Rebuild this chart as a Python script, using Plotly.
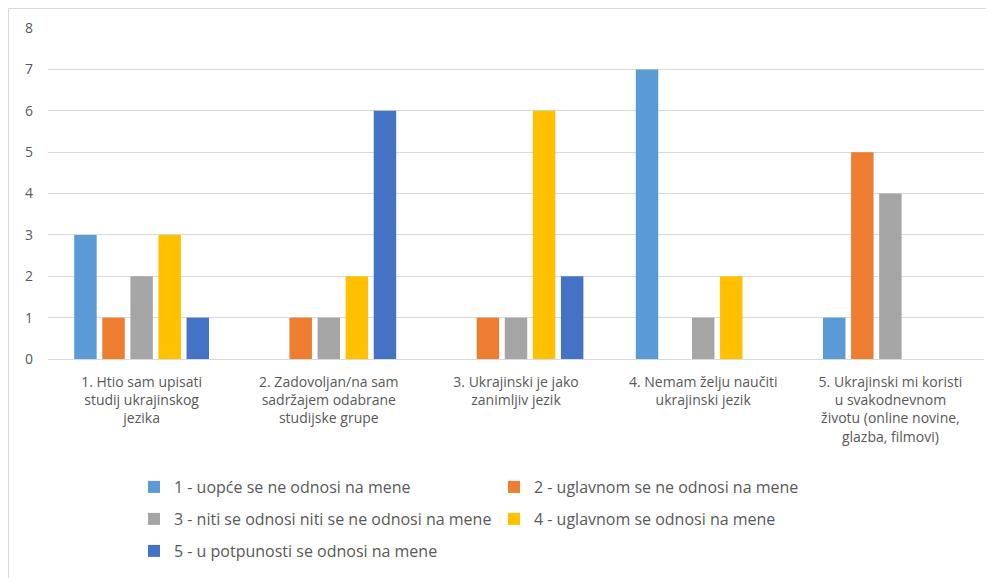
import plotly.graph_objects as go

categories = [
    "1. Htio sam upisati<br>studij ukrajinskog<br>jezika",
    "2. Zadovoljan/na sam<br>sadržajem odabrane<br>studijske grupe",
    "3. Ukrajinski je jako<br>zanimljiv jezik",
    "4. Nemam želju naučiti<br>ukrajinski jezik",
    "5. Ukrajinski mi koristi<br>u svakodnevnom<br>životu (online novine,<br>glazba, filmovi)",
]
series_names = [
    "1 - uopće se ne odnosi na mene",
    "2 - uglavnom se ne odnosi na mene",
    "3 - niti se odnosi niti se ne odnosi na mene",
    "4 - uglavnom se odnosi na mene",
    "5 - u potpunosti se odnosi na mene",
]
s1 = [3, 0, 0, 7, 1]
s2 = [1, 1, 1, 0, 5]
s3 = [2, 1, 1, 1, 4]
s4 = [3, 2, 6, 2, 0]
s5 = [1, 6, 2, 0, 0]
values = [s1, s2, s3, s4, s5]
colors = ["#5B9BD5", "#ED7D31", "#A5A5A5", "#FFC000", "#4472C4"]
legend_ids = ["legend", "legend", "legend2", "legend2", "legend3"]

fig = go.Figure()
for name, vals, col, lg in zip(series_names, values, colors, legend_ids):
    fig.add_trace(go.Bar(x=categories, y=vals, name=name, marker_color=col,
                         marker_line_width=0, legend=lg))

# the page body adds an 8px offset; figure coordinates below are page coords - 8
W, H = 994, 578
ml, mr, mt, mb = 40, 18, 20, 227
pw, ph = W - ml - mr, H - mt - mb

def px_x(x):
    return (x - ml) / pw

def px_y(y):
    return (H - mb - y) / ph

font = dict(family="Open Sans, Liberation Sans, sans-serif", size=14, color="#595959")
leg_font = dict(family="Open Sans, Liberation Sans, sans-serif", size=16, color="#595959")
leg_common = dict(orientation="h", xanchor="left", yanchor="middle", x=px_x(126),
                  entrywidth=315, entrywidthmode="pixels", font=leg_font,
                  bgcolor="rgba(0,0,0,0)", itemwidth=30, traceorder="normal")

fig.update_layout(
    width=W, height=H,
    margin=dict(l=ml, r=mr, t=mt, b=mb),
    paper_bgcolor="white", plot_bgcolor="white",
    font=font,
    barmode="group", bargap=0.25, bargroupgap=0.2,
    xaxis=dict(showgrid=False, showline=False, ticks="", tickfont=dict(size=14, color="#595959"),
               tickangle=0, automargin=False, ticklabelstandoff=13),
    yaxis=dict(range=[0, 8], dtick=1, showgrid=True, gridcolor="#D9D9D9", gridwidth=1,
               zeroline=True, zerolinecolor="#D9D9D9", zerolinewidth=1,
               tickfont=dict(size=14, color="#595959"), ticks="", ticklabelstandoff=14,
               automargin=False),
    legend=dict(**leg_common, y=px_y(479)),
    legend2=dict(**leg_common, y=px_y(511)),
    legend3=dict(**leg_common, y=px_y(543)),
    showlegend=True,
    shapes=[dict(type="rect", xref="paper", yref="paper",
                 x0=px_x(0.5), x1=px_x(1000), y0=px_y(600), y1=px_y(0.5),
                 line=dict(color="#D9D9D9", width=1), fillcolor="rgba(0,0,0,0)", layer="below")],
)

fig.write_html("out.html")
